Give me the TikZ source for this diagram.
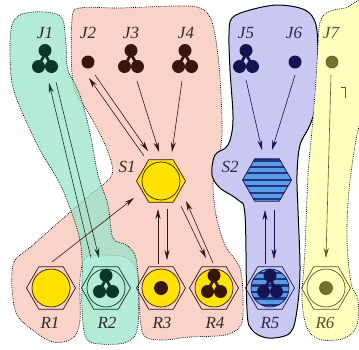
\documentclass[tikz,border=0pt]{standalone}
\usepackage{fontspec}
\setmainfont{Liberation Serif}
\usetikzlibrary{shapes.geometric,arrows.meta}
\definecolor{pinkF}{RGB}{249,210,200}
\definecolor{tealF}{RGB}{150,228,200}
\definecolor{blueF}{RGB}{200,200,242}
\definecolor{yelF}{RGB}{255,255,190}
\definecolor{gold}{RGB}{255,226,0}
\definecolor{brownK}{RGB}{55,22,12}
\definecolor{tealK}{RGB}{12,55,40}
\definecolor{navyK}{RGB}{20,20,80}
\definecolor{oliveK}{RGB}{90,90,35}
\definecolor{oliveB}{RGB}{115,115,45}
\definecolor{stripeL}{RGB}{90,155,230}
\definecolor{stripeD}{RGB}{35,50,130}
\definecolor{txtK}{RGB}{50,40,38}
\definecolor{txtN}{RGB}{40,40,85}
\definecolor{txtO}{RGB}{85,85,45}
\begin{document}
\begin{tikzpicture}[x=1pt,y=-1pt,
  lbl/.style={font=\fontsize{17}{17}\selectfont\itshape, inner sep=0pt},
  hexR/.style={regular polygon, regular polygon sides=6, minimum size=49pt, inner sep=0pt, draw, line width=0.7pt},
  disc/.style={circle, minimum size=38pt, inner sep=0pt, draw, line width=0.7pt},
  blob/.style={line width=0.7pt, dash pattern=on 0.8pt off 1.1pt},
  arr/.style={line width=0.6pt, -{Stealth[length=10pt,width=5pt]}},
  striped/.style={fill=stripeL, path picture={\foreach \k in {0,...,7} \fill[stripeD] ([yshift=1pt+\k*6.45pt]path picture bounding box.south west) rectangle ++(60pt,2.2pt);}},
  tri/.pic={\fill (0,-8.5) circle (6.5pt); \fill (-6.5,7.5) circle (6.5pt); \fill (6.5,7.5) circle (6.5pt); \draw[line width=2.8pt] (0,-5) -- (-5.5,5); \draw[line width=2.8pt] (0,-5) -- (5.5,5);}
]
\useasboundingbox (0,0) rectangle (359,349);
\fill[white] (0,0) rectangle (359,349);
\begin{scope}
\clip (0,0) rectangle (359,349);
% pink blob
\path[fill=pinkF, draw=black, blob] plot[smooth cycle, tension=0.55] coordinates {
 (72,20) (80,8) (120,8) (175,6) (200,8) (212,22) (219,65) (222,133) (216,168) (213,185) (216,215) (225,245) (240,268) (243,300) (241,325) (225,335) (190,337) (160,340) (143,334) (139,300) (137,270) (125,257) (100,255) (85,258) (80,280) (80,320) (73,338) (53,342) (30,328) (15,310) (13,265) (33,245) (67,215) (90,195) (110,178) (112,165) (103,140) (88,112) (73,83)};
% teal blob
\path[fill=tealF, fill opacity=0.72, draw=black, blob] plot[smooth cycle, tension=0.55] coordinates {
 (12,25) (22,14) (45,12) (62,18) (66,45) (68,70) (80,95) (90,133) (98,175) (108,205) (113,238) (128,246) (137,264) (138,325) (127,342) (100,344) (86,338) (82,308) (82,258) (78,232) (65,195) (55,175) (40,150) (22,112) (12,83) (10,50)};
% blue blob
\path[fill=blueF, draw=black, line width=1pt] plot[smooth cycle, tension=0.55] coordinates {
 (232,18) (250,10) (278,5) (305,10) (316,25) (318,60) (317,100) (310,125) (300,145) (297,175) (298,210) (300,270) (297,310) (290,333) (268,338) (252,330) (247,310) (245,215) (238,200) (220,188) (212,175) (215,155) (228,145) (233,120) (230,70) (229,35)};
% yellow blob
\path[fill=yelF, draw=black, blob] plot[smooth cycle, tension=0.55] coordinates {
 (320,22) (328,12) (345,8) (366,5) (366,90) (356,140) (349,190) (347,240) (351,283) (358,300) (357,325) (345,338) (322,340) (308,330) (302,300) (305,250) (308,175) (312,130) (316,80) (318,45)};
\end{scope}
% tiny mark
\draw[oliveK, line width=0.6pt] (341,87) -- (345,87) -- (345,98);

% endpoints
\coordinate (a1s) at (91,258); \coordinate (a1e) at (49,83);
\coordinate (a2s) at (56,82); \coordinate (a2e) at (99,258);
\coordinate (b1s) at (144,156); \coordinate (b1e) at (89,78);
\coordinate (b2s) at (95,75); \coordinate (b2e) at (148,151);
\coordinate (b3s) at (137,81); \coordinate (b3e) at (159,152);
\coordinate (b4s) at (182,81); \coordinate (b4e) at (172,152);
\coordinate (c1s) at (246,80); \coordinate (c1e) at (262,150);
\coordinate (c2s) at (295,75); \coordinate (c2e) at (272,150);
\coordinate (d1s) at (331,75); \coordinate (d1e) at (326,258);
\coordinate (e1s) at (52,262); \coordinate (e1e) at (134,198);
\coordinate (f1s) at (158,264); \coordinate (f1e) at (158,209);
\coordinate (f2s) at (167,209); \coordinate (f2e) at (167,260);
\coordinate (g1s) at (213,263); \coordinate (g1e) at (186,201);
\coordinate (g2s) at (181,206); \coordinate (g2e) at (206,258);
\coordinate (h1s) at (265,264); \coordinate (h1e) at (265,210);
\coordinate (h2s) at (274,210); \coordinate (h2e) at (274,259);

\draw[arr, tealK] (a1s) -- (a1e);
\draw[arr, tealK] (a2s) -- (a2e);
\draw[arr, brownK] (b1s) -- (b1e);
\draw[arr, brownK] (b2s) -- (b2e);
\draw[arr, brownK] (b3s) -- (b3e);
\draw[arr, brownK] (b4s) -- (b4e);
\draw[arr, navyK] (c1s) -- (c1e);
\draw[arr, navyK] (c2s) -- (c2e);
\draw[arr, oliveK] (d1s) -- (d1e);
\draw[arr, brownK] (e1s) -- (e1e);
\draw[arr, brownK] (f1s) -- (f1e);
\draw[arr, brownK] (f2s) -- (f2e);
\draw[arr, brownK] (g1s) -- (g1e);
\draw[arr, brownK] (g2s) -- (g2e);
\draw[arr, navyK] (h1s) -- (h1e);
\draw[arr, navyK] (h2s) -- (h2e);

% S nodes
\node[hexR, draw=brownK, fill=gold] (S1) at (161,181) {};
\node[disc, draw=brownK, fill=gold] (S1c) at (S1) {};
\node[hexR, draw=navyK, striped] (S2) at (267,180) {};

% R nodes
\node[hexR, draw=brownK] (R1) at (51,288) {};
\node[disc, draw=brownK, fill=gold] (R1c) at (R1) {};
\node[hexR, draw=tealK] (R2) at (106,288) {};
\node[disc, draw=tealK] (R2c) at (R2) {};
\node[hexR, draw=brownK] (R3) at (161,288) {};
\node[disc, draw=brownK, fill=gold] (R3c) at (R3) {};
\node[hexR, draw=brownK] (R4) at (214,288) {};
\node[disc, draw=brownK, fill=gold] (R4c) at (R4) {};
\node[hexR, draw=navyK] (R5) at (270,288) {};
\node[disc, draw=navyK, striped] (R5c) at (R5) {};
\node[hexR, draw=oliveK] (R6) at (326,288) {};
\node[disc, draw=oliveK] (R6c) at (R6) {};

% symbols in R
\pic[color=tealK] at (106,284) {tri};
\node[circle, fill=brownK, minimum size=14pt, inner sep=0pt] (R3b) at (R3) {};
\pic[color=brownK] at (214,284) {tri};
\pic[color=navyK] at (270,284) {tri};
\node[circle, fill=oliveB, draw=oliveK, line width=0.6pt, minimum size=13pt, inner sep=0pt] (R6b) at (R6) {};

% J symbols
\pic[color=tealK] at (45,59) {tri};
\node[circle, fill=brownK, minimum size=13pt, inner sep=0pt] (J2b) at (88,62) {};
\pic[color=brownK] at (131,59) {tri};
\pic[color=brownK] at (185,59) {tri};
\pic[color=navyK] at (246,59) {tri};
\node[circle, fill=navyK, minimum size=13pt, inner sep=0pt] (J6b) at (295,62) {};
\node[circle, fill=oliveB, draw=oliveK, line width=0.6pt, minimum size=12pt, inner sep=0pt] (J7b) at (332,62) {};

% labels
\node[lbl, text=txtK] (J1) at (45,33) {J1};
\node[lbl, text=txtK] (J2) at (88,33) {J2};
\node[lbl, text=txtK] (J3) at (131,33) {J3};
\node[lbl, text=txtK] (J4) at (186,33) {J4};
\node[lbl, text=txtN] (J5) at (246,33) {J5};
\node[lbl, text=txtN] (J6) at (294,33) {J6};
\node[lbl, text=txtO] (J7) at (331,33) {J7};
\node[lbl, text=txtK] (S1l) at (127,167) {S1};
\node[lbl, text=txtN] (S2l) at (230,167) {S2};
\node[lbl, text=txtK] (R1l) at (50,323) {R1};
\node[lbl, text=txtK] (R2l) at (107,323) {R2};
\node[lbl, text=txtK] (R3l) at (162,323) {R3};
\node[lbl, text=txtK] (R4l) at (215,323) {R4};
\node[lbl, text=txtN] (R5l) at (270,323) {R5};
\node[lbl, text=txtO] (R6l) at (325,323) {R6};
\end{tikzpicture}
\end{document}
